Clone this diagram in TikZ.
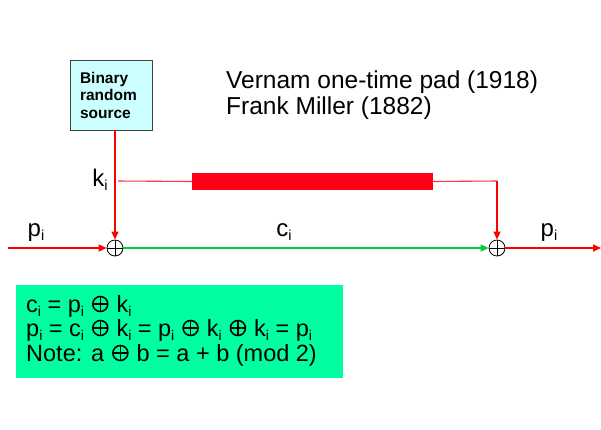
\documentclass[tikz,border=0pt]{standalone}
\usepackage{fontspec}
\setmainfont{Liberation Sans}
\usetikzlibrary{arrows.meta}
\definecolor{srcfill}{RGB}{204,255,255}
\definecolor{keyred}{RGB}{255,0,0}
\definecolor{barred}{RGB}{255,0,24}
\definecolor{thinred}{RGB}{255,50,70}
\definecolor{ciphgreen}{RGB}{0,204,51}
\definecolor{notefill}{RGB}{0,255,160}
% subscript index and a light circled-plus sign
\newcommand{\idx}[1]{\raisebox{-0.17em}{\fontsize{0.6em}{0.6em}\selectfont #1}}
\newcommand{\xorsym}{\hspace{0.06em}\begin{tikzpicture}[x=1cm,y=1cm,baseline=0pt,line width=0.065em]
  \draw (0.33em,0.34em) circle [radius=0.32em];
  \draw (0.01em,0.34em) -- (0.65em,0.34em) (0.33em,0.02em) -- (0.33em,0.66em);
  \end{tikzpicture}\hspace{0.06em}}
\tikzset{
  redarrow/.style={draw=keyred, line width=1.6pt, -{Triangle[length=8pt,width=7pt]}},
  greenarrow/.style={draw=ciphgreen, line width=1.6pt, -{Triangle[length=8pt,width=7pt]}},
  thinline/.style={draw=thinred, line width=1.1pt},
  xornode/.style={circle, draw=black, line width=0.8pt, minimum size=16pt, inner sep=0pt,
    path picture={\draw[line width=0.8pt] (path picture bounding box.north) -- (path picture bounding box.south)
      (path picture bounding box.west) -- (path picture bounding box.east);}},
  sig/.style={font=\fontsize{24}{28}\selectfont, inner sep=0pt},
  formula/.style={font=\fontsize{23.5}{28}\selectfont, inner sep=0pt, anchor=base west},
}
\begin{document}
\begin{tikzpicture}[x=1pt,y=-1pt]
\useasboundingbox (0,0) rectangle (601,429);

% key source
\node[draw=black!75, fill=srcfill, line width=0.8pt, minimum width=82pt, minimum height=70pt,
  text width=62pt, inner xsep=10pt, inner ysep=0pt, align=left,
  font=\fontsize{15.5}{17.5}\selectfont\bfseries] (src) at (111,95)
  {Binary\\random\\source};

% heading
\node[anchor=base west, inner sep=0pt, font=\fontsize{24.5}{28}\selectfont] (title1) at (226,88) {Vernam one-time pad (1918)};
\node[anchor=base west, inner sep=0pt, font=\fontsize{24.5}{28}\selectfont] (title2) at (226,114) {Frank Miller (1882)};

% xor gates and line ends
\node[xornode] (xa) at (115,248) {};
\node[xornode] (xb) at (497,248) {};
\coordinate (pin) at (8,248);
\coordinate (pout) at (601,248);
\coordinate (tapL) at (118,181);
\coordinate (tapR) at (497,181);

% key channel
\node[fill=barred, minimum width=241pt, minimum height=17pt, inner sep=0pt] (bar) at (312.5,181.5) {};
\draw[thinline] (tapL) -- (bar.west);
\draw[thinline] (bar.east) -- (tapR);
\draw[redarrow] (tapR) -- (xb.north);
\draw[redarrow] (src.south -| xa) -- (xa.north);

% data path
\draw[redarrow] (pin) -- (xa.west);
\draw[greenarrow] (xa.east) -- (xb.west);
\draw[redarrow] (xb.east) -- (pout);

% signal labels
\node[sig, anchor=base] (lk) at (100,186) {k\idx{i}};
\node[sig, anchor=base] (lp1) at (36,236) {p\idx{i}};
\node[sig, anchor=base] (lc) at (284,236) {c\idx{i}};
\node[sig, anchor=base] (lp2) at (549,236) {p\idx{i}};

% relations
\node[fill=notefill, minimum width=327pt, minimum height=93pt, inner sep=0pt] (note) at (179.5,331.5) {};
\node[formula] (f1) at (26,312) {c\idx{i} = p\idx{i} \xorsym{} k\idx{i}};
\node[formula] (f2) at (26,336) {p\idx{i} = c\idx{i} \xorsym{} k\idx{i} = p\idx{i} \xorsym{} k\idx{i} \xorsym{} k\idx{i} = p\idx{i}};
\node[formula] (f3) at (26,361) {Note: a \xorsym{} b = a + b (mod 2)};
\end{tikzpicture}
\end{document}
